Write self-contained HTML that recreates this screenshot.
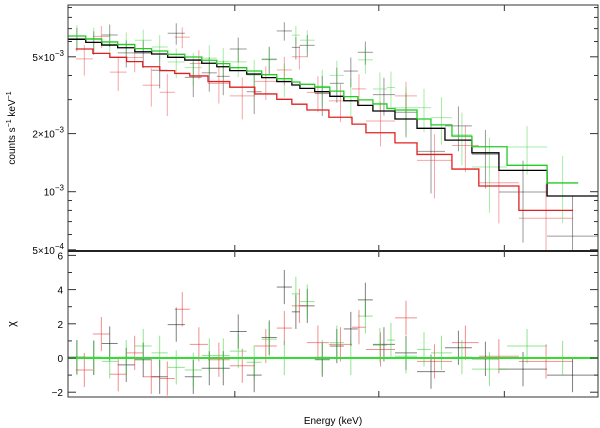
<!DOCTYPE html>
<html><head><meta charset="utf-8"><style>
body{margin:0;background:#fff;}
svg{display:block;font-family:"Liberation Sans",sans-serif;}
</style></head><body>
<svg id="c" width="600" height="428"></svg>
<script>
// ---- data ----
const blackEdges=[0.448,0.488,0.527,0.569,0.618,0.670,0.724,0.786,0.853,0.917,0.976,1.059,1.138,1.224,1.316,1.368,1.469,1.580,1.690,1.808,1.944,2.162,2.404,2.750,3.131,3.566,4.496,5.745];
const blackModel=[6.16,5.94,5.75,5.57,5.31,5.17,4.97,4.81,4.63,4.44,4.24,4.07,3.90,3.72,3.57,3.43,3.30,3.12,2.96,2.80,2.62,2.38,2.13,1.85,1.59,1.29,0.95];
const blackChi=[0.05,0.0,0.85,-0.4,-0.1,-1.1,1.95,-1.1,-0.6,-0.6,1.55,-1.0,1.2,4.15,2.7,3.05,-0.1,0.7,1.7,3.4,0.8,0.3,-0.8,0.6,-0.05,-0.65,-1.0];
const blackErr=[.14,.14,.15,.15,.16,.16,.17,.17,.18,.18,.19,.19,.2,.2,.21,.22,.23,.24,.25,.26,.27,.28,.3,.31,.33,.35,.38];

const greenEdges=[0.448,0.488,0.527,0.569,0.618,0.670,0.724,0.786,0.853,0.917,0.976,1.059,1.138,1.224,1.316,1.368,1.469,1.580,1.690,1.808,1.944,2.080,2.162,2.404,2.571,2.844,3.131,3.708,4.496,5.222];
const greenModel=[6.41,6.18,5.97,5.78,5.51,5.36,5.15,4.99,4.80,4.61,4.39,4.22,4.04,3.85,3.70,3.60,3.48,3.32,3.11,2.99,2.85,2.70,2.65,2.38,2.22,1.94,1.71,1.37,1.11];
const greenChi=[0.0,0.05,-0.2,0.05,0.7,0.3,-0.55,-0.7,0.15,0.15,0.4,-0.25,1.1,0.0,3.75,3.3,0.05,0.9,0.0,2.45,0.75,1.05,0.1,0.5,0.3,0.05,-0.65,0.7,0.0];
const greenErr=[.14,.14,.14,.15,.15,.16,.16,.17,.17,.18,.18,.19,.19,.2,.2,.21,.22,.23,.24,.25,.26,.27,.28,.29,.3,.31,.33,.35,.38];

const redEdges=[0.465,0.505,0.548,0.594,0.642,0.697,0.749,0.805,0.879,0.976,1.101,1.224,1.316,1.415,1.573,1.758,1.880,2.162,2.404,2.844,3.237,3.926,5.097];
const redModel=[5.49,5.21,4.97,4.72,4.44,4.24,4.10,3.98,3.72,3.48,3.21,3.01,2.84,2.65,2.43,2.24,2.02,1.79,1.56,1.31,1.07,0.80];
const redChi=[-0.7,1.4,-0.95,0.3,-1.1,-1.2,2.85,0.8,-0.1,-0.45,0.7,1.75,3.05,0.9,0.8,1.8,0.5,2.35,-0.2,0.9,0.1,-0.2];
const redErr=[.16,.16,.17,.17,.18,.19,.19,.2,.21,.22,.23,.24,.25,.26,.27,.29,.3,.32,.34,.36,.4,.45];

const yTicksTop=[5e-3,2e-3,1e-3,5e-4];
const yTickLabelsTop=['5×10<tspan dy="-5" font-size="8">−3</tspan>','2×10<tspan dy="-5" font-size="8">−3</tspan>','10<tspan dy="-5" font-size="8">−3</tspan>','5×10<tspan dy="-5" font-size="8">−4</tspan>'];
const yMinorTop=[6e-4,7e-4,8e-4,9e-4,3e-3,4e-3,6e-3,7e-3,8e-3,9e-3];
const yTicksRes=[-2,0,2,4,6];
const yMinorRes=[-1,1,3,5];
const xTicks=[1,2,3.66];

// ---- axes ----
const L=68,R=598,T1=5,B1=251,T2=251,B2=397;
const xLogMin=Math.log10(0.448),xLogMax=Math.log10(5.745);
const X=e=>L+(Math.log10(e)-xLogMin)/(xLogMax-xLogMin)*(R-L);
const Y1=v=>191.7-193*(Math.log10(v)+3);
const Y2=c=>358-17.1*c;
const svg=document.getElementById('c');
const NS='http://www.w3.org/2000/svg';
function mk(tag,attrs,parent){const e=document.createElementNS(NS,tag);for(const k in attrs)e.setAttribute(k,attrs[k]);(parent||svg).appendChild(e);return e;}
function line(x1,y1,x2,y2,stroke,w,op,g){return mk('line',{x1,y1,x2,y2,stroke,'stroke-width':w,'stroke-opacity':op},g);}

const series=[
 {n:'black',edges:blackEdges,model:blackModel,chi:blackChi,err:blackErr,c:'#000',dc:'#000'},
 {n:'red',edges:redEdges,model:redModel,chi:redChi,err:redErr,c:'#e02020',dc:'#e02020'},
 {n:'green',edges:greenEdges,model:greenModel,chi:greenChi,err:greenErr,c:'#22cc22',dc:'#22cc22'}
];

// data crosses
series.forEach(s=>{
 const g=mk('g',{});
 
 
 const gr=mk('g',{});
 
 
 s.model.forEach((m,i)=>{
  const x1=X(s.edges[i]),x2=X(s.edges[i+1]),xc=(x1+x2)/2;
  const sig=m*s.err[i]*1e-3, mv=m*1e-3;
  const d=mv+s.chi[i]*sig;
  const yc=Y1(d),yt=Y1(d+sig),yb=Math.min(B1,d-sig>0?Y1(d-sig):B1);
  line(x1,yc,x2,yc,s.dc,1,0.4,g);
  line(xc,Math.max(T1,yt),xc,yb,s.dc,1,0.4,g);
  const r=Y2(s.chi[i]);
  line(x1,r,x2,r,s.dc,1,0.5,gr);
  line(xc,Math.max(T2,Y2(s.chi[i]+1)),xc,Math.min(B2,Y2(s.chi[i]-1)),s.dc,1,0.5,gr);
 });
});
// model steps
series.forEach(s=>{
 let d='';
 s.model.forEach((m,i)=>{const x1=X(s.edges[i]),x2=X(s.edges[i+1]),y=Y1(m*1e-3);d+=(i?'L':'M')+x1+' '+y+'L'+x2+' '+y;});
 const p=mk('path',{d,fill:'none',stroke:s.c,'stroke-width':1.3});
 
 
});
// zero line
const z=line(L,Y2(0),R,Y2(0),'#33dd33',2,1);



// frames
const f1=mk('rect',{x:L,y:T1,width:R-L,height:B1-T1,fill:'none',stroke:'#333','stroke-width':1});


const f2=mk('rect',{x:L,y:T2,width:R-L,height:B2-T2,fill:'none',stroke:'#333','stroke-width':1});


line(L,251,R,251,'#222',2,1);

// ticks
const tg=mk('g',{});


yTicksTop.forEach((v,i)=>{const y=Y1(v);line(L,y,L+8,y,'#333',1,1,tg);line(R-8,y,R,y,'#333',1,1,tg);
 const t=mk('text',{x:64,y:y+4,'text-anchor':'end','font-size':10,fill:'#000'});t.innerHTML=yTickLabelsTop[i];
 });
yMinorTop.forEach(v=>{const y=Y1(v);if(y<T1)return;line(L,y,L+4,y,'#333',1,1,tg);line(R-4,y,R,y,'#333',1,1,tg);});
yTicksRes.forEach(v=>{const y=Y2(v);line(L,y,L+8,y,'#333',1,1,tg);line(R-8,y,R,y,'#333',1,1,tg);
 const t=mk('text',{x:63,y:y+4,'text-anchor':'end','font-size':10,fill:'#000'});t.textContent=v<0?'−'+(-v):String(v);
 });
yMinorRes.forEach(v=>{const y=Y2(v);line(L,y,L+4,y,'#333',1,1,tg);line(R-4,y,R,y,'#333',1,1,tg);});
xTicks.forEach(e=>{const x=X(e);
 line(x,T1,x,T1+6,'#333',1,1,tg);line(x,B1-6,x,B1+6,'#333',1,1,tg);line(x,B2-6,x,B2,'#333',1,1,tg);});

// labels
const yl=mk('text',{x:0,y:0,transform:'translate(15,128) rotate(-90)','text-anchor':'middle','font-size':10,fill:'#000'});
yl.innerHTML='counts s<tspan dy="-4" font-size="7">−1</tspan><tspan dy="4"> keV</tspan><tspan dy="-4" font-size="7">−1</tspan>';

const chiL=mk('text',{x:0,y:0,transform:'translate(15,324) rotate(-90)','text-anchor':'middle','font-size':11,fill:'#000'});
chiL.textContent='χ';

const xl=mk('text',{x:333,y:424,'text-anchor':'middle','font-size':10,fill:'#000'});
xl.textContent='Energy (keV)';

</script>
</body></html>
